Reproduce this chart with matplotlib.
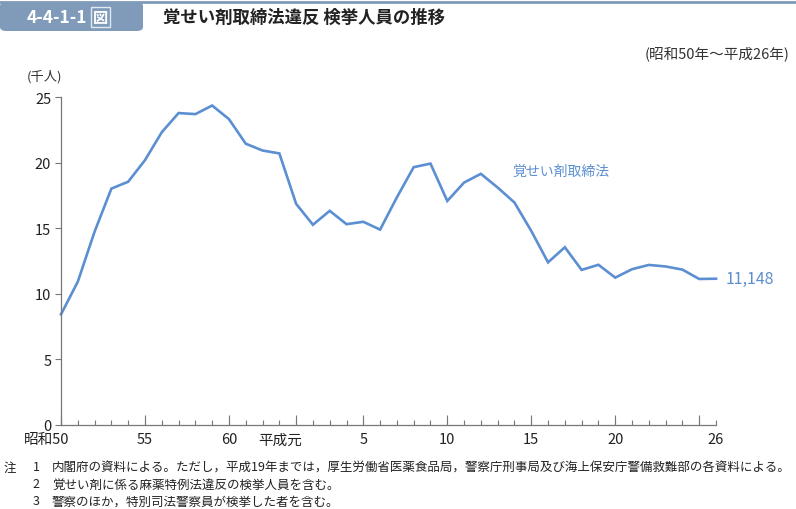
import numpy as np
import matplotlib
matplotlib.use('Agg')
import matplotlib.pyplot as plt
from matplotlib.patches import FancyBboxPatch
from matplotlib.ticker import FixedLocator, FixedFormatter, FuncFormatter

plt.rcParams['font.family'] = ['Noto Sans CJK JP', 'DejaVu Sans']

# 昭和50年(1975)～平成26年(2014) 覚せい剤取締法違反 検挙人員
years = list(range(1975, 2015))
persons = [8422, 10919, 14741, 18027, 18553, 20200, 22331, 23797, 23715, 24372,
           23334, 21458, 20937, 20716, 16866, 15267, 16330, 15311, 15495, 14896,
           17364, 19666, 19937, 17084, 18491, 19156, 18110, 16964, 14797, 12397,
           13549, 11821, 12211, 11231, 11873, 12200, 12083, 11842, 11127, 11148]
label_pos = [0, 5, 10, 14, 18, 23, 28, 33, 39]
label_txt = ['昭和50', '55', '60', '平成元', '5', '10', '15', '20', '26']
major_pos = [0, 5, 10, 14, 18, 23, 28, 33, 38]

line_color = '#5b8fd1'
head_color = '#7f9bb9'

fig = plt.figure(figsize=(7.96, 5.10), dpi=100)

# タイトル部分
fig.add_artist(FancyBboxPatch((0.0, 1 - 32 / 510), 143 / 796, 29 / 510,
                              boxstyle='round,pad=0,rounding_size=0.008',
                              transform=fig.transFigure, facecolor=head_color,
                              edgecolor='none'))
fig.add_artist(plt.Line2D([0.0, 0.999], [1 - 3 / 510, 1 - 3 / 510],
                          transform=fig.transFigure, color=head_color, lw=2))
fig.text(27 / 796, 1 - 18 / 510, '4-4-1-1', color='white', fontsize=12.5,
         fontweight='bold', va='center', ha='left')
fig.text(93 / 796, 1 - 18 / 510, '図', color='white', fontsize=11,
         fontweight='bold', va='center', ha='left',
         bbox=dict(boxstyle='square,pad=0.12', facecolor=head_color,
                   edgecolor='#dfe7f0', linewidth=1))
fig.text(163 / 796, 1 - 18 / 510, '覚せい剤取締法違反 検挙人員の推移', color='#222222',
         fontsize=12.5, fontweight='bold', va='center', ha='left')
fig.text(790 / 796, 1 - 55 / 510, '(昭和50年～平成26年)', color='#333333',
         fontsize=10.5, va='center', ha='right')
fig.text(27 / 796, 1 - 77 / 510, '(千人)', color='#333333', fontsize=9.5,
         va='center', ha='left')

ax = fig.add_axes([61 / 796, 1 - 425.7 / 510, 655 / 796, 327.4 / 510])
x = np.arange(len(years))
y = np.array(persons) / 1000
ax.plot(x, y, color=line_color, lw=1.9, solid_joinstyle='miter', clip_on=False)

ax.set_xlim(0, 39)
ax.set_ylim(0, 25)
ax.set_yticks([0, 5, 10, 15, 20, 25])
ax.tick_params(axis='y', direction='out', length=4, width=0.8, color='#777777',
               labelsize=10.5, labelcolor='#222222', pad=3)

# 昭和50・平成元 は左寄せ気味に別で置く
shifted = {0: 6, 14: 4.5}
lab = {p: t for p, t in zip(label_pos, label_txt) if p not in shifted}
ax.xaxis.remove_overlapping_locs = False
ax.xaxis.set_major_locator(FixedLocator(major_pos))
ax.xaxis.set_major_formatter(FixedFormatter([''] * len(major_pos)))
ax.xaxis.set_minor_locator(FixedLocator(list(x)))
ax.xaxis.set_minor_formatter(FuncFormatter(lambda v, p: lab.get(int(round(v)), '')))
ax.tick_params(axis='x', which='major', direction='in', length=7, width=0.8,
               color='#777777', labelbottom=False)
ax.tick_params(axis='x', which='minor', direction='in', length=3.5, width=0.8,
               color='#777777', labelsize=10.5, labelcolor='#222222', pad=5.5)
for p, dx in shifted.items():
    ax.annotate(label_txt[label_pos.index(p)], xy=(p, 0),
                xycoords=('data', 'axes fraction'), xytext=(dx, -5.5),
                textcoords='offset points', ha='right', va='top',
                fontsize=10.5, color='#222222', annotation_clip=False)

for s in ['top', 'right']:
    ax.spines[s].set_visible(False)
for s in ['left', 'bottom']:
    ax.spines[s].set_color('#777777')
    ax.spines[s].set_linewidth(0.9)

ax.text(26.9, 19.4, '覚せい剤取締法', color=line_color, fontsize=10,
        va='center', ha='left')
ax.annotate(f'{persons[-1]:,}', xy=(x[-1], y[-1]), xytext=(7, 0),
            textcoords='offset points', color=line_color, fontsize=11.5,
            va='center', ha='left', annotation_clip=False)

# 注
notes = ['内閣府の資料による。ただし，平成19年までは，厚生労働省医薬食品局，警察庁刑事局及び海上保安庁警備救難部の各資料による。',
         '覚せい剤に係る麻薬特例法違反の検挙人員を含む。',
         '警察のほか，特別司法警察員が検挙した者を含む。']
fig.text(4 / 796, 1 - 468 / 510, '注', fontsize=9, color='#222222', va='center')
for i, n in enumerate(notes):
    yy = 1 - (468 + 17 * i) / 510
    fig.text(36 / 796, yy, str(i + 1), fontsize=9, color='#222222', va='center', ha='center')
    fig.text(52 / 796, yy, n, fontsize=9, color='#222222', va='center', ha='left')

fig.savefig('out.png', dpi=100)
